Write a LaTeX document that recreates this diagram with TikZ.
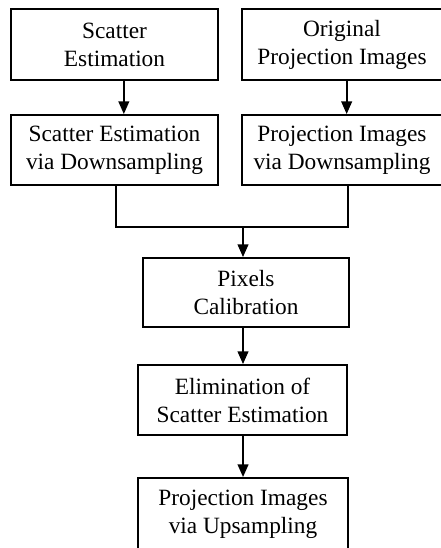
\documentclass[tikz,border=0pt]{standalone}
\usepackage{fontspec}
\setmainfont{Liberation Serif}
\usetikzlibrary{arrows.meta}

\begin{document}
\begin{tikzpicture}[x=0.75pt, y=-0.75pt,
	box/.style={draw, line width=1.4pt, align=center, inner sep=0pt,
		minimum width=155pt, minimum height=52.5pt,
		font=\fontsize{17.5}{21}\selectfont},
	link/.style={line width=1.4pt},
	arr/.style={link, -{Triangle[width=8pt, length=9.5pt]}}]
	\useasboundingbox (0,0) rectangle (440,548);
	
	% Top row
	\node[box, minimum height=53.25pt] (scat) at (114.5, 44.5) {Scatter\\Estimation};
	\node[box, minimum width=150pt, minimum height=53.25pt] (orig) at (342, 44.5) {Original\\Projection Images};
	
	% Downsampling row
	\node[box] (scatdown) at (114.5, 150) {Scatter Estimation\\via Downsampling};
	\node[box, minimum width=150pt] (projdown) at (342, 150) {Projection Images\\via Downsampling};
	
	% Main chain
	\node[box, minimum width=154.5pt, minimum height=51.75pt] (pix) at (246, 292.5) {Pixels\\Calibration};
	\node[box, minimum width=156.75pt] (elim) at (242.5, 400) {Elimination of\\Scatter Estimation};
	\node[box, minimum width=157.5pt, minimum height=54pt] (up) at (243, 514) {Projection Images\\via Upsampling};
	
	% Connectors
	\coordinate (join) at (243, 227);
	\draw[arr] ([xshift=7pt]scat.south) -- ([xshift=7pt]scatdown.north);
	\draw[arr] ([xshift=3.5pt]orig.south) -- ([xshift=3.5pt]projdown.north);
	\draw[link] ([xshift=1.1pt]scatdown.south) |- (join) -| ([xshift=4.5pt]projdown.south);
	\draw[arr] (join) -- (join |- pix.north);
	\draw[arr] ([xshift=-2.25pt]pix.south) -- ([xshift=-2.25pt]pix.south |- elim.north);
	\draw[arr] ([xshift=0.4pt]elim.south) -- ([xshift=0.4pt]elim.south |- up.north);
\end{tikzpicture}
\end{document}
